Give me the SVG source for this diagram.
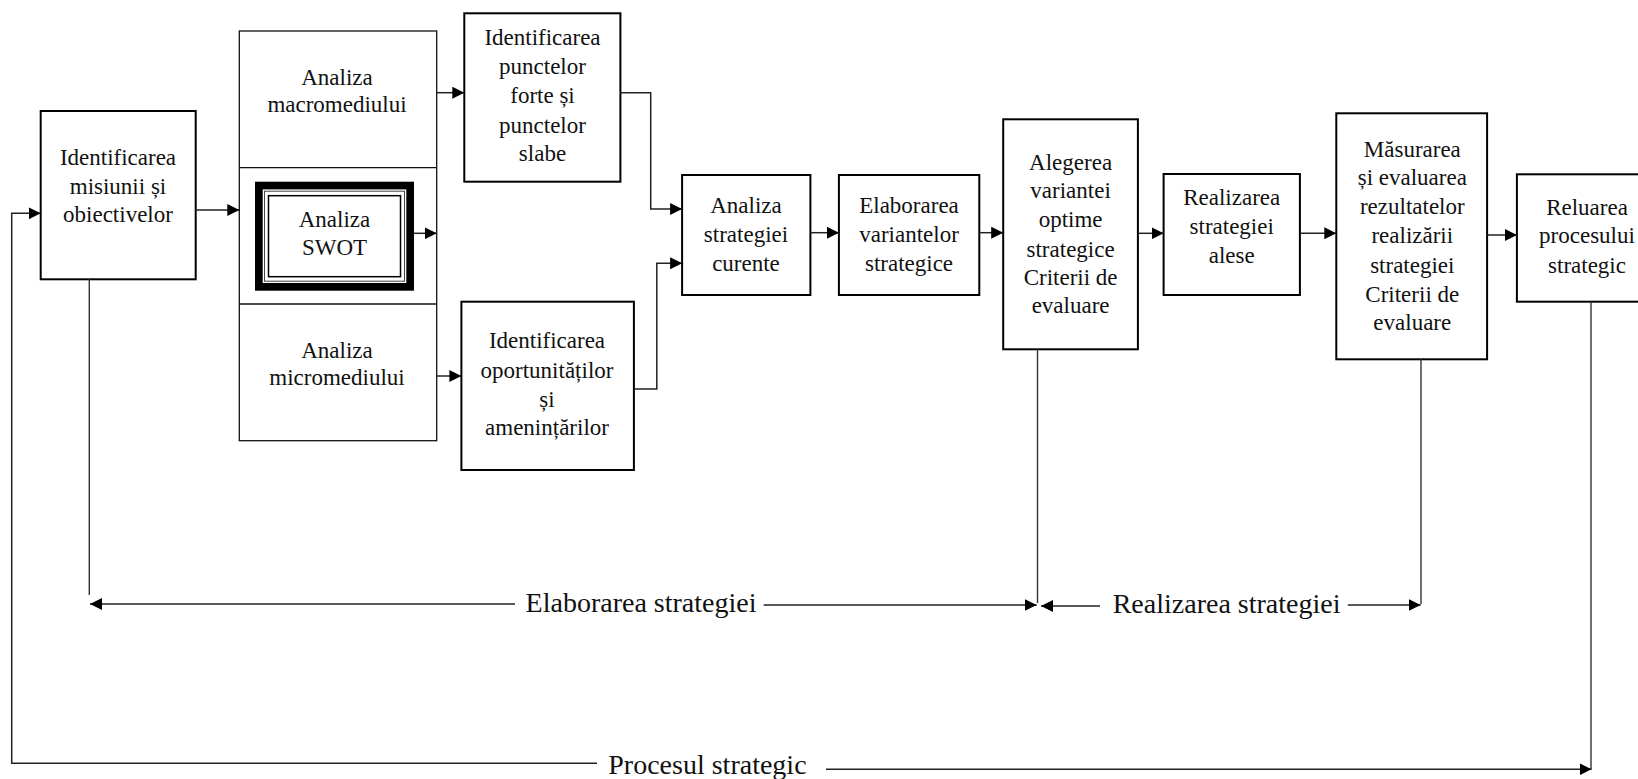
<svg xmlns="http://www.w3.org/2000/svg" width="1638" height="779" viewBox="0 0 1638 779">
  <style>
    .box { fill: #fff; stroke: #000; stroke-width: 2; }
    .col { fill: #fff; stroke: #111; stroke-width: 1.3; }
    .nodetext { font-family: "Liberation Serif", "Times New Roman", serif; font-size: 23px; fill: #111; text-anchor: middle; }
    .lbl { font-family: "Liberation Serif", "Times New Roman", serif; font-size: 28px; fill: #111; }
    .ln { fill: none; stroke: #333; stroke-width: 1.4; }
    .arr { fill: none; stroke: #222; stroke-width: 1.5; marker-end: url(#ah); }
  </style>
  <defs>
    <marker id="ah" markerUnits="userSpaceOnUse" markerWidth="13" markerHeight="12" refX="12" refY="6" orient="auto">
      <path d="M0,0 L12,6 L0,12 z" fill="#000"/>
    </marker>
  </defs>
  <rect width="1638" height="779" fill="#fff"/>

  <g font-family="Liberation Serif, Times New Roman, serif" font-size="23" text-anchor="middle">

  <!-- Mission and objectives -->
  <g id="misiune">
    <rect class="box" x="40.7" y="111" width="155" height="168.3"/>
    <text class="nodetext" x="118" y="165">Identificarea</text>
    <text class="nodetext" x="118" y="193.5">misiunii și</text>
    <text class="nodetext" x="118" y="222">obiectivelor</text>
  </g>

  <!-- Environment analysis column -->
  <g id="analiza-mediu">
    <rect class="col" x="239.3" y="31" width="197.4" height="409.7"/>
    <line class="col" x1="239.3" y1="167.7" x2="436.7" y2="167.7"/>
    <line class="col" x1="239.3" y1="304" x2="436.7" y2="304"/>
    <text class="nodetext" x="337" y="85">Analiza</text>
    <text class="nodetext" x="337" y="111.7">macromediului</text>
    <text class="nodetext" x="337" y="358.3">Analiza</text>
    <text class="nodetext" x="337" y="385">micromediului</text>
  </g>

  <!-- SWOT: thick-thin-thin framed box -->
  <g id="swot">
    <rect x="258.85" y="185.55" width="151.3" height="101.3" fill="#fff" stroke="#000" stroke-width="7.7"/>
    <rect x="264.5" y="191.2" width="140" height="90" fill="none" stroke="#444" stroke-width="1"/>
    <rect x="268.5" y="195.7" width="132" height="81" fill="none" stroke="#000" stroke-width="1.5"/>
    <text class="nodetext" x="334.5" y="226.7">Analiza</text>
    <text class="nodetext" x="334.5" y="255">SWOT</text>
  </g>

  <g id="puncte">
    <rect class="box" x="464.3" y="13.3" width="156.1" height="168.4"/>
    <text class="nodetext" x="542.5" y="45">Identificarea</text>
    <text class="nodetext" x="542.5" y="74">punctelor</text>
    <text class="nodetext" x="542.5" y="103.3">forte și</text>
    <text class="nodetext" x="542.5" y="132.7">punctelor</text>
    <text class="nodetext" x="542.5" y="160.7">slabe</text>
  </g>

  <g id="oportunitati">
    <rect class="box" x="461.4" y="301.7" width="172.5" height="168.3"/>
    <text class="nodetext" x="547" y="348.3">Identificarea</text>
    <text class="nodetext" x="547" y="377.7">oportunităților</text>
    <text class="nodetext" x="547" y="406.7">și</text>
    <text class="nodetext" x="547" y="435">amenințărilor</text>
  </g>

  <g id="strategie-curenta">
    <rect class="box" x="682.1" y="175" width="128.3" height="120"/>
    <text class="nodetext" x="746" y="213.3">Analiza</text>
    <text class="nodetext" x="746" y="241.7">strategiei</text>
    <text class="nodetext" x="746" y="270.7">curente</text>
  </g>

  <g id="variante">
    <rect class="box" x="838.9" y="175" width="140.4" height="120"/>
    <text class="nodetext" x="909" y="213.3">Elaborarea</text>
    <text class="nodetext" x="909" y="241.7">variantelor</text>
    <text class="nodetext" x="909" y="270.7">strategice</text>
  </g>

  <g id="alegere">
    <rect class="box" x="1003.2" y="119.3" width="134.7" height="230"/>
    <text class="nodetext" x="1070.6" y="170">Alegerea</text>
    <text class="nodetext" x="1070.6" y="198.3">variantei</text>
    <text class="nodetext" x="1070.6" y="227.3">optime</text>
    <text class="nodetext" x="1070.6" y="256.7">strategice</text>
    <text class="nodetext" x="1070.6" y="285">Criterii de</text>
    <text class="nodetext" x="1070.6" y="313.3">evaluare</text>
  </g>

  <g id="realizare">
    <rect class="box" x="1163.6" y="174" width="136.3" height="121"/>
    <text class="nodetext" x="1231.7" y="205">Realizarea</text>
    <text class="nodetext" x="1231.7" y="234">strategiei</text>
    <text class="nodetext" x="1231.7" y="262.7">alese</text>
  </g>

  <g id="masurare">
    <rect class="box" x="1336.3" y="113.3" width="150.8" height="246"/>
    <text class="nodetext" x="1412.3" y="156.7">Măsurarea</text>
    <text class="nodetext" x="1412.3" y="185">și evaluarea</text>
    <text class="nodetext" x="1412.3" y="214">rezultatelor</text>
    <text class="nodetext" x="1412.3" y="243.3">realizării</text>
    <text class="nodetext" x="1412.3" y="272.7">strategiei</text>
    <text class="nodetext" x="1412.3" y="301.7">Criterii de</text>
    <text class="nodetext" x="1412.3" y="330">evaluare</text>
  </g>

  <g id="reluare">
    <rect class="box" x="1516.9" y="174.3" width="140" height="127.4"/>
    <text class="nodetext" x="1587" y="215">Reluarea</text>
    <text class="nodetext" x="1587" y="243.3">procesului</text>
    <text class="nodetext" x="1587" y="272.7">strategic</text>
  </g>

  </g>

  <g id="conectori">
    <!-- main flow -->
    <path class="arr" d="M195.7,210 H239.3"/>
    <path class="arr" d="M436.7,92.7 H464.3"/>
    <path class="arr" d="M414,233.3 H436.7"/>
    <path class="arr" d="M436.7,376 H461.4"/>
    <path class="arr" d="M620.4,92.7 H650.7 V209 H682.1"/>
    <path class="arr" d="M633.9,389 H656.8 V263.3 H682.1"/>
    <path class="arr" d="M810.4,232.7 H838.9"/>
    <path class="arr" d="M979.3,232.7 H1003.2"/>
    <path class="arr" d="M1137.9,233.3 H1163.6"/>
    <path class="arr" d="M1299.9,233.3 H1336.3"/>
    <path class="arr" d="M1487.1,235 H1516.9"/>

    <!-- phase spans -->
    <path class="ln" d="M89.3,279.3 V595"/>
    <path class="ln" d="M1037.5,349.3 V603"/>
    <path class="ln" d="M1421,359.3 V604"/>
    <path class="arr" d="M515,604 H90"/>
    <path class="arr" d="M763.6,605 H1036.7"/>
    <path class="arr" d="M1100,606 H1041"/>
    <path class="arr" d="M1347.8,605 H1420.7"/>

    <!-- whole-process loop -->
    <path class="arr" d="M597,763.3 H11.7 V213.3 H40.7"/>
    <path class="ln" d="M1591,301.7 V769.3"/>
    <path class="arr" d="M826,769.3 H1591.5"/>
  </g>

  <g id="etichete">
    <text class="lbl" x="525.6" y="612">Elaborarea strategiei</text>
    <text class="lbl" x="1112.7" y="613">Realizarea strategiei</text>
    <text class="lbl" x="608.3" y="773.5">Procesul strategic</text>
  </g>
</svg>
